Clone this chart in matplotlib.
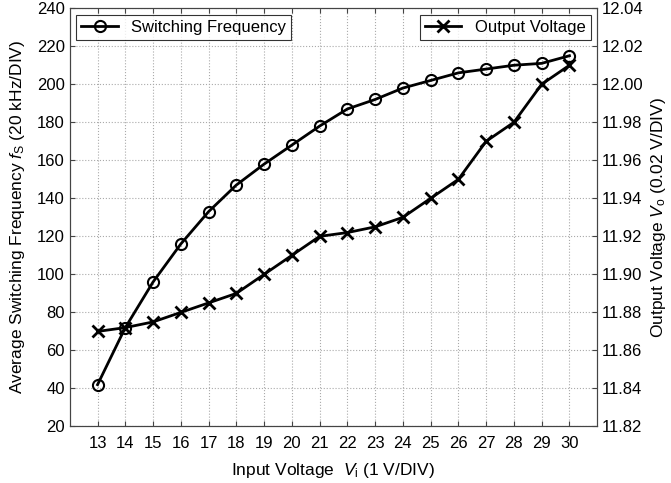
import matplotlib
matplotlib.use("Agg")
import matplotlib.pyplot as plt

plt.rcParams['font.family'] = ['Liberation Sans', 'DejaVu Sans']
plt.rcParams['mathtext.fontset'] = 'custom'
plt.rcParams['mathtext.it'] = 'Liberation Sans:italic'
plt.rcParams['mathtext.rm'] = 'Liberation Sans'

vin = [13, 14, 15, 16, 17, 18, 19, 20, 21, 22, 23, 24, 25, 26, 27, 28, 29, 30]
freq = [42, 72, 96, 116, 133, 147, 158, 168, 178, 187, 192, 198, 202, 206, 208, 210, 211, 215]
vout = [11.870, 11.872, 11.875, 11.880, 11.885, 11.890, 11.900, 11.910, 11.920, 11.922,
        11.925, 11.930, 11.940, 11.950, 11.970, 11.980, 12.000, 12.010]

fig = plt.figure(figsize=(6.71, 4.83), dpi=100)
ax = fig.add_axes([0.104, 0.117, 0.786, 0.866])
l1, = ax.plot(vin, freq, 'k-o', lw=2, ms=8, mfc='none', mew=1.5, label='Switching Frequency')
ax.set_xlim(12, 31)
ax.set_ylim(20, 240)
ax.set_xticks(vin)
ax.set_yticks(range(20, 241, 20))
ax.grid(True, linestyle=':', color='#aaaaaa', lw=0.8)
ax.tick_params(direction='in', labelsize=12, top=True, color='#444444')
ax.tick_params(axis='x', pad=7)
ax.set_xlabel(r'Input Voltage  $V_{\mathrm{i}}$ (1 V/DIV)', fontsize=12.5, labelpad=7)
ax.set_ylabel(r'Average Switching Frequency $f_{\mathrm{S}}$ (20 kHz/DIV)', fontsize=12.5, labelpad=7)

ax2 = ax.twinx()
l2, = ax2.plot(vin, vout, 'k-x', lw=2, ms=8, mew=2, label='Output Voltage')
ax2.set_ylim(11.82, 12.04)
ax2.set_yticks([11.82 + 0.02 * i for i in range(12)])
ax2.set_yticklabels(['%.2f' % (11.82 + 0.02 * i) for i in range(12)])
ax2.tick_params(direction='in', labelsize=12, color='#444444')
ax2.set_ylabel(r'Output Voltage $V_{\mathrm{o}}$ (0.02 V/DIV)', fontsize=12.5, labelpad=4)

for a in (ax, ax2):
    for s in a.spines.values():
        s.set_color('#444444')

leg1 = ax.legend(handles=[l1], loc='upper left', fancybox=False, edgecolor='k', fontsize=12, handlelength=2.2,
                 borderaxespad=0.4, borderpad=0.3)
leg1.get_frame().set_linewidth(0.8)
leg2 = ax2.legend(handles=[l2], loc='upper right', fancybox=False, edgecolor='k', fontsize=12, handlelength=2.2,
                  borderaxespad=0.4, borderpad=0.3)
leg2.get_frame().set_linewidth(0.8)

fig.savefig('out.png', dpi=100)
